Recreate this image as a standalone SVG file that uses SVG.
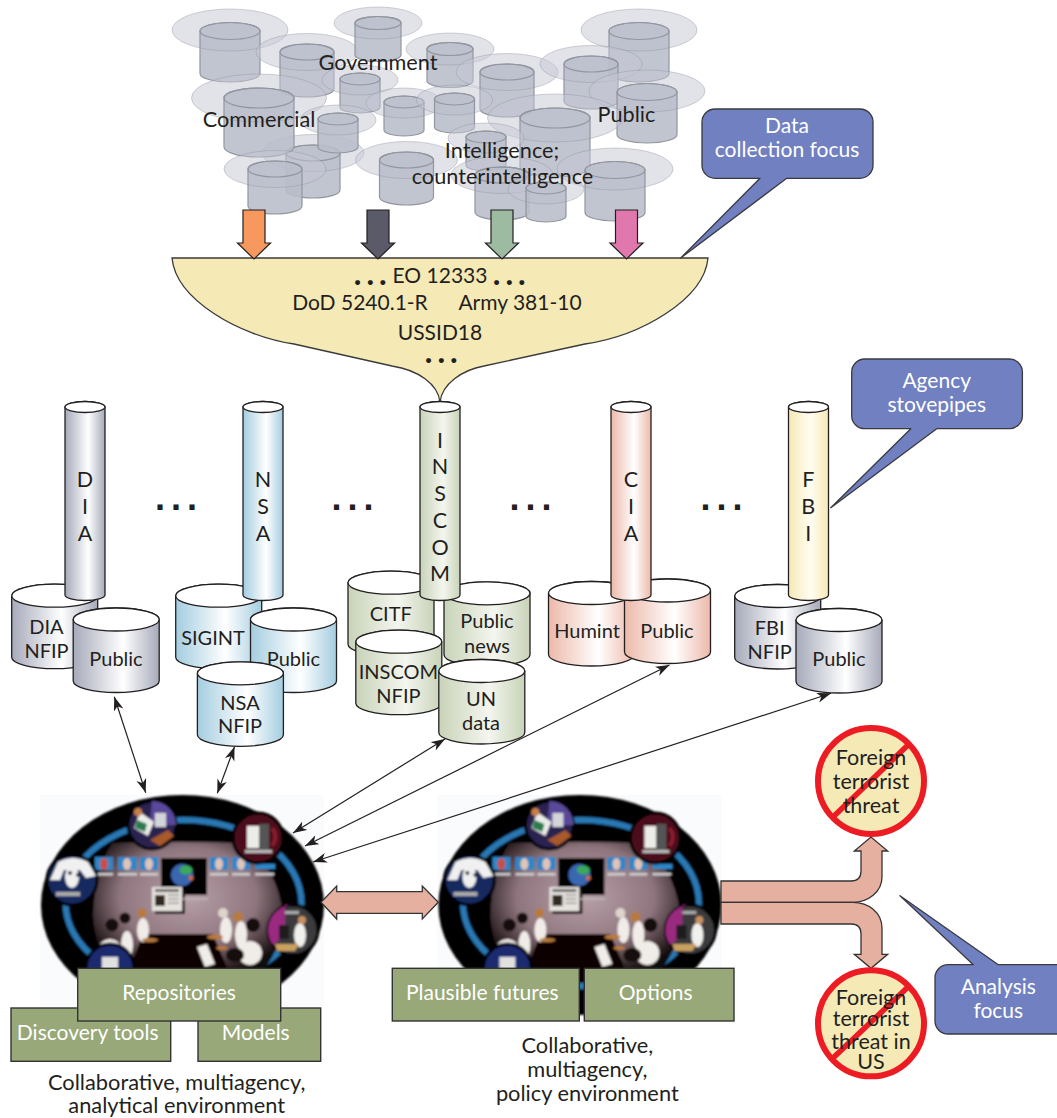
<svg xmlns="http://www.w3.org/2000/svg" xmlns:xlink="http://www.w3.org/1999/xlink" width="1057" height="1118" viewBox="0 0 1057 1118">
<style>
text{font-family:Lato,"Open Sans","Liberation Sans",sans-serif;font-size:20px;fill:#231f20;text-anchor:middle}
.w{fill:#fff;font-size:21px}
.l{font-size:21.7px}
.f{font-size:21px}
.e{font-size:21.8px}
.big{font-size:21.5px}
.dot{font-weight:900;font-size:30px;letter-spacing:5.500px;text-anchor:start}
.sq{font-family:"Liberation Sans",sans-serif;font-weight:700;font-size:36px;letter-spacing:6px;text-anchor:start}
.halo{fill:#c6c8d4;fill-opacity:.5;stroke:none}
.ho{fill:none;stroke:#8f91a0;stroke-opacity:.4;stroke-width:1}
.gb{fill:#b8bdca;fill-opacity:.88;stroke:#92969f;stroke-width:1.2}
.gt{fill:none;stroke:#92969f;stroke-width:1.2}
.cy{stroke:#231f20;stroke-width:1.3}
.top{fill:#fff;stroke:#231f20;stroke-width:1.3}
.box{fill:#98a878;stroke:#333;stroke-width:1.4}
.call{fill:#7080c0;stroke:#3a3a40;stroke-width:1.3;stroke-linejoin:round}
.pink{fill:#e6b0a0;stroke:#333;stroke-width:1.3;stroke-linejoin:miter}
.no{fill:#f5e9b5;stroke:#ed1c24;stroke-width:6}
.bar{stroke:#ed1c24;stroke-width:5.5;fill:none}
.thin{fill:none;stroke:#231f20;stroke-width:1.2;marker-start:url(#ah);marker-end:url(#ah)}
.fall{stroke:#231f20;stroke-width:1.2}
.rc{stroke:#000;stroke-width:3}
</style>
<defs>
<marker id="ah" markerUnits="userSpaceOnUse" markerWidth="15" markerHeight="11" refX="14" refY="5" orient="auto-start-reverse"><path d="M14 5 L0 0 L4 5 L0 10Z" fill="#231f20"/></marker>
<linearGradient id="gDia"><stop offset="0" stop-color="#a6aaba"/><stop offset=".58" stop-color="#fff"/><stop offset="1" stop-color="#a6aaba"/></linearGradient>
<linearGradient id="gNsa"><stop offset="0" stop-color="#a4cde0"/><stop offset=".58" stop-color="#fff"/><stop offset="1" stop-color="#a4cde0"/></linearGradient>
<linearGradient id="gIns"><stop offset="0" stop-color="#c8d3b8"/><stop offset=".58" stop-color="#f4f6ef"/><stop offset="1" stop-color="#c8d3b8"/></linearGradient>
<linearGradient id="gCia"><stop offset="0" stop-color="#ecb9aa"/><stop offset=".58" stop-color="#fff"/><stop offset="1" stop-color="#ecb9aa"/></linearGradient>
<linearGradient id="gFbi"><stop offset="0" stop-color="#f6e9b6"/><stop offset=".55" stop-color="#fffdf2"/><stop offset="1" stop-color="#f6e9b6"/></linearGradient>
<radialGradient id="gRoom" cx=".5" cy=".4" r=".6"><stop offset="0" stop-color="#b8a0a8"/><stop offset=".6" stop-color="#8f767e"/><stop offset="1" stop-color="#100809"/></radialGradient>
<filter id="soft" x="-5%" y="-5%" width="110%" height="110%"><feGaussianBlur stdDeviation=".8"/></filter>
<g id="c20"><ellipse class="halo" cy="1" rx="38" ry="15"/><path class="gb" d="M-20 0V28A20 6 0 0 0 20 28V0A20 6 0 0 0-20 0Z"/><ellipse class="gt" rx="20" ry="6"/><ellipse class="ho" cy="1" rx="38" ry="15"/></g>
<g id="c23"><ellipse class="halo" rx="44" ry="16"/><path class="gb" d="M-23 0V32A23 6.5 0 0 0 23 32V0A23 6.5 0 0 0-23 0Z"/><ellipse class="gt" rx="23" ry="6.5"/><ellipse class="ho" rx="44" ry="16"/></g>
<g id="c27"><ellipse class="halo" rx="51" ry="18.5"/><path class="gb" d="M-27 0V37A27 8 0 0 0 27 37V0A27 8 0 0 0-27 0Z"/><ellipse class="gt" rx="27" ry="8"/><ellipse class="ho" rx="51" ry="18.5"/></g>
<g id="c30"><ellipse class="halo" cy="-1" rx="58" ry="21"/><path class="gb" d="M-30 0V42.5A30 8.5 0 0 0 30 42.5V0A30 8.5 0 0 0-30 0Z"/><ellipse class="gt" rx="30" ry="8.5"/><ellipse class="ho" cy="-1" rx="58" ry="21"/></g>
<g id="c35"><ellipse class="halo" rx="67.5" ry="24"/><path class="gb" d="M-35 0V49A35 10 0 0 0 35 49V0A35 10 0 0 0-35 0Z"/><ellipse class="gt" rx="35" ry="10"/><ellipse class="ho" rx="67.5" ry="24"/></g>
<g id="cyl"><path class="cy" d="M-43 0V61.5A43 11.5 0 0 0 43 61.5V0A43 11.5 0 0 0-43 0Z"/><ellipse class="top" rx="43" ry="11.5"/></g>
<g id="pipe"><path class="cy" d="M-20 0V188A20 5.500 0 0 0 20 188V0A20 5.500 0 0 0-20 0Z"/><ellipse class="top" rx="20" ry="5.500"/></g>
<g id="room">
<rect x="40" y="795" width="284" height="212" fill="#fafbfd"/>
<g filter="url(#soft)">
<ellipse cx="182.500" cy="905" rx="141.500" ry="110" fill="#000"/>
<ellipse cx="183.500" cy="903" rx="118" ry="83" fill="none" stroke="#2a78b4" stroke-width="6"/>
<path d="M112 843Q180 841 248 843Q285 880 283 930Q270 972 250 980H115Q95 950 93 915Q95 870 112 843Z" fill="url(#gRoom)"/>
<path d="M143 934H213L232 980H125Z" fill="#0a0506"/>
<g fill="#2f86c8"><rect x="95" y="857" width="18" height="13"/><rect x="118" y="857" width="19" height="13"/><rect x="140" y="857" width="18" height="13"/><rect x="210" y="857" width="18" height="13"/><rect x="232" y="857" width="18" height="13"/><rect x="255" y="864" width="20" height="5"/></g>
<g fill="#e0c4b8"><ellipse cx="104" cy="864" rx="4" ry="6" fill="#c8504a"/><ellipse cx="127" cy="864" rx="4" ry="6"/><ellipse cx="149" cy="864" rx="4" ry="6"/><ellipse cx="219" cy="864" rx="4" ry="6"/><ellipse cx="241" cy="864" rx="4" ry="6"/></g>
<g fill="#cfcfcf"><rect x="97" y="873" width="16" height="2.500"/><rect x="118" y="873" width="19" height="2.500"/><rect x="140" y="873" width="18" height="2.500"/><rect x="210" y="873" width="18" height="2.500"/><rect x="232" y="873" width="18" height="2.500"/><rect x="255" y="873" width="19" height="2.500"/></g>
<rect x="161" y="858" width="46" height="37" fill="#000"/>
<circle cx="182" cy="875" r="11" fill="#3a66b0"/><ellipse cx="186" cy="870" rx="6.500" ry="4.500" fill="#3aa85a"/><circle cx="191" cy="878" r="2.500" fill="#c86a40"/>
<rect x="155" y="890" width="30" height="24" fill="#1c1416"/><rect x="152" y="887" width="30" height="24" fill="#e6e2de"/><rect x="155" y="889" width="24" height="3" fill="#666"/><rect x="155" y="895" width="10" height="11" fill="#332a22"/><path d="M168 895h11M168 899h11M168 903h11" stroke="#777" stroke-width="1.200"/><path d="M182 899h26" stroke="#bbb" stroke-width="1.500"/>
<g fill="#f0ece8"><ellipse cx="127" cy="945" rx="6" ry="14"/><ellipse cx="143" cy="930" rx="6" ry="12"/><ellipse cx="110" cy="948" rx="11" ry="9"/><ellipse cx="226" cy="930" rx="6" ry="13"/><ellipse cx="241" cy="935" rx="6" ry="14"/><ellipse cx="250" cy="953" rx="12" ry="12"/><path d="M197 947l10-3 8 20-10 3Z"/></g>
<g fill="#15100f"><circle cx="112" cy="925" r="6.500"/><circle cx="125" cy="918" r="5.500"/><circle cx="253" cy="925" r="7"/><ellipse cx="235" cy="955" rx="9" ry="7"/></g>
<g fill="#b87a3c"><circle cx="142" cy="913" r="4.500"/><circle cx="238" cy="917" r="5"/><ellipse cx="150" cy="940" rx="8" ry="2"/><ellipse cx="215" cy="937" rx="8" ry="2.500"/><ellipse cx="222" cy="948" rx="6" ry="2"/></g>
<circle cx="223" cy="913" r="5" fill="#ddd5cc"/>
<circle class="rc" cx="152" cy="825" r="24" fill="#2a2350"/><path d="M152 801a24 24 0 0 1 24 24H150Z" fill="#5a4a9a"/><path d="M140 812l14 10-6 14-14-8Z" fill="#ecece8"/><rect x="155" y="813" width="11" height="14" fill="#d4d5d8"/><path d="M150 840l18-10 6 6-14 10Z" fill="#a85a2a"/><circle cx="138" cy="812" r="4" fill="#c8804a"/><path d="M137 820l10 4-2 8-10-4Z" fill="#2a7a50"/>
<circle class="rc" cx="258" cy="838" r="25" fill="#4c0e1c"/><rect x="247" y="826" width="12" height="22" fill="#ecece8"/><rect x="259" y="824" width="10" height="26" fill="#555"/><path d="M272 828a14 14 0 0 1 0 18" stroke="#8a1a2a" stroke-width="4" fill="none"/><rect x="245" y="850" width="27" height="3" fill="#bbb"/>
<circle class="rc" cx="72" cy="880" r="25" fill="#162a5e"/><path d="M58 862q15-8 30 0l8 14-10 2-6-8-16 0-4 10-10 0Z" fill="#f0f0f0"/><ellipse cx="72" cy="877" rx="7" ry="11" fill="#f0f0f0"/><circle cx="70" cy="873" r="2" fill="#222"/><circle cx="78" cy="875" r="2" fill="#222"/><rect x="56" y="892" width="24" height="4" fill="#aaa"/>
<circle class="rc" cx="293" cy="930" r="25" fill="#3a3a3e"/><path d="M293 905a25 25 0 0 0-20 40l12-10V905Z" fill="#9a2a80"/><rect x="279" y="925" width="10" height="14" fill="#1c1c1c"/><ellipse cx="300" cy="935" rx="6" ry="12" fill="#f0f0ec"/><circle cx="302" cy="920" r="4" fill="#c89060"/><path d="M275 944h24l-4 7h-18Z" fill="#c8a060"/><rect x="285" y="911" width="14" height="3" fill="#aaa"/>
<circle class="rc" cx="110" cy="968" r="24" fill="#1c2a70"/><rect x="102" y="957" width="16" height="22" fill="#e0e0e0"/>
</g>
</g>
</defs>

<g id="sources">
<use href="#c30" x="230" y="31"/><use href="#c27" x="307" y="52"/><use href="#c23" x="378" y="23"/><use href="#c23" x="450" y="49"/><use href="#c27" x="507" y="72"/><use href="#c30" x="639" y="31"/><use href="#c27" x="591" y="64"/><use href="#c30" x="647" y="92"/><use href="#c27" x="313" y="153"/><use href="#c35" x="259" y="98"/><use href="#c20" x="360" y="79"/><use href="#c20" x="404" y="102"/><use href="#c20" x="454.500" y="99"/><use href="#c20" x="338" y="119"/><use href="#c27" x="275" y="169"/><use href="#c27" x="406.500" y="160"/><use href="#c35" x="555" y="118"/><use href="#c20" x="486" y="137"/><use href="#c30" x="615" y="170"/><use href="#c27" x="502" y="175"/><use href="#c20" x="546" y="188"/>
<text class="l" x="378" y="69.500">Government</text>
<text class="l" x="259" y="127">Commercial</text>
<text class="l" x="626.500" y="122">Public</text>
<text class="l" x="502" y="157.500">Intelligence;</text>
<text class="l" x="502.500" y="184">counterintelligence</text>
</g>

<g id="funnel">
<path d="M172 258H708C704 300 640 336 585 344L484 366C462 370 442 384 440 402C438 384 418 370 392 366L294 344C240 336 176 300 172 258Z" fill="#f5e9b5" stroke="#3a3a3a" stroke-width="1.300"/>
<text class="f" x="440" y="283">EO 12333</text>
<text class="f" x="360" y="309.500">DoD 5240.1-R</text>
<text class="f" x="520" y="309.500">Army 381-10</text>
<text class="f" x="440" y="339.500">USSID18</text>
<text class="dot" x="354" y="285">...</text>
<text class="dot" x="493" y="285">...</text>
<text class="dot" x="425" y="363">...</text>
</g>

<g id="dots">
<text class="sq" x="155" y="509.500">...</text>
<text class="sq" x="331.500" y="509.500">...</text>
<text class="sq" x="509.500" y="509.500">...</text>
<text class="sq" x="700.500" y="509.500">...</text>
</g>

<g id="dia" fill="url(#gDia)">
<use href="#cyl" x="54.700" y="595.700"/><text x="46.500" y="634">DIA</text><text x="46.500" y="658">NFIP</text>
<use href="#cyl" x="116.200" y="619.500"/><text x="116" y="666">Public</text>
<use href="#pipe" x="85" y="407"/><text class="big" x="85" y="487">D</text><text class="big" x="85" y="514">I</text><text class="big" x="85" y="541">A</text>
</g>
<g id="nsa" fill="url(#gNsa)">
<use href="#cyl" x="218.700" y="595.700"/><text x="213" y="645">SIGINT</text>
<use href="#cyl" x="293.500" y="619.500"/><text x="293.400" y="666">Public</text>
<use href="#cyl" x="240.400" y="673.300"/><text x="240" y="709.500">NSA</text><text x="240" y="732.500">NFIP</text>
<use href="#pipe" x="263" y="407"/><text class="big" x="263" y="487">N</text><text class="big" x="263" y="514">S</text><text class="big" x="263" y="541">A</text>
</g>
<g id="inscom" fill="url(#gIns)">
<use href="#cyl" x="391" y="582.700"/><text x="390.800" y="621">CITF</text>
<use href="#cyl" x="487" y="593.300"/><text x="487" y="628">Public</text><text x="487" y="653">news</text>
<use href="#cyl" x="398.800" y="641.700"/><text x="398.400" y="679">INSCOM</text><text x="398.400" y="703">NFIP</text>
<use href="#cyl" x="481.800" y="671"/><text x="481" y="706">UN</text><text x="481" y="730">data</text>
<use href="#pipe" x="440" y="407"/><text class="big" x="440" y="447.500">I</text><text class="big" x="440" y="474">N</text><text class="big" x="440" y="501">S</text><text class="big" x="440" y="527.500">C</text><text class="big" x="440" y="554.500">O</text><text class="big" x="440" y="581">M</text>
</g>
<g id="cia" fill="url(#gCia)">
<use href="#cyl" x="591.500" y="593"/><text x="587" y="637.500">Humint</text>
<use href="#cyl" x="667.500" y="590.500"/><text x="667" y="637.500">Public</text>
<use href="#pipe" x="631" y="407"/><text class="big" x="631" y="487">C</text><text class="big" x="631" y="514">I</text><text class="big" x="631" y="541">A</text>
</g>
<g id="fbi">
<use href="#cyl" x="777.700" y="596" fill="url(#gDia)"/><text x="769.700" y="634.500">FBI</text><text x="769.700" y="658.500">NFIP</text>
<use href="#pipe" x="808.500" y="407" fill="url(#gFbi)"/><text class="big" x="808.300" y="487">F</text><text class="big" x="808.300" y="514">B</text><text class="big" x="808.300" y="541">I</text>
<use href="#cyl" x="839" y="620" fill="url(#gDia)"/><text x="839" y="666">Public</text>
</g>

<g id="analytical-env">
<use href="#room"/>
<rect class="box" x="11" y="1008" width="159.700" height="53.300"/><text class="w" x="87.700" y="1039.500">Discovery tools</text>
<rect class="box" x="198" y="1008" width="122.700" height="53.300"/><text class="w" x="255.700" y="1039.500">Models</text>
<rect class="box" x="77.700" y="968.300" width="203" height="52.700"/><text class="w" x="179" y="999.500">Repositories</text>
<text class="e" x="176.700" y="1089.500">Collaborative, multiagency,</text>
<text class="e" x="176.700" y="1113">analytical environment</text>
</g>
<g id="policy-env">
<use href="#room" x="397.400"/>
<rect class="box" x="392.300" y="968.300" width="187" height="52.700"/><text class="w" x="482.300" y="999.500">Plausible futures</text>
<rect class="box" x="584.300" y="968.300" width="149.700" height="52.700"/><text class="w" x="655.700" y="999.500">Options</text>
<text class="e" x="587.300" y="1053">Collaborative,</text>
<text class="e" x="587.300" y="1077">multiagency,</text>
<text class="e" x="587.300" y="1101">policy environment</text>
</g>

<g id="connectors">
<path class="fall" fill="#f7995f" d="M243 210H265V243H270.500L254 259L237.500 243H243Z"/>
<path class="fall" fill="#5a5a68" d="M367 210H389V243H394.500L378 259L361.500 243H367Z"/>
<path class="fall" fill="#9cbba0" d="M491 210H513V243H518.500L502 259L485.500 243H491Z"/>
<path class="fall" fill="#e078ae" d="M615.500 210H637.500V243H643L626.500 259L610 243H615.500Z"/>
<path class="thin" d="M114.300 696.700L145.700 792.700"/>
<path class="thin" d="M234.500 746.700L217.300 793.300"/>
<path class="thin" d="M445 739L293 833"/>
<path class="thin" d="M669.500 665L305 846"/>
<path class="thin" d="M831 693.300L313 862"/>
<path class="pink" d="M321 902.300L336.700 886V891.700H422.300V886L438.300 902.300L422.300 919V913.300H336.700V919Z"/>
<path class="pink" d="M721 881H851Q861 881 861 871V851H854.300L871 837L887.700 851H882V877C882 892 868 902.300 853 902.300H721Z"/>
<path class="pink" d="M721 902.300H853C868 902.300 882 912 882 928V954.300H887.700L871 968.300L854.300 954.300H861V934Q861 924 851 924H721Z"/>
</g>

<g id="threat">
<circle class="no" cx="871" cy="781" r="53"/><path class="bar" d="M908 745L833 817"/>
<text class="big" x="871" y="765">Foreign</text><text class="big" x="871" y="789">terrorist</text><text class="big" x="871" y="813">threat</text>
</g>
<g id="threat-us">
<circle class="no" cx="871" cy="1023.300" r="53"/><path class="bar" d="M908 987L833 1058"/>
<text class="big" x="871" y="1005">Foreign</text><text class="big" x="871" y="1026">terrorist</text><text class="big" x="871" y="1048.500">threat in</text><text class="big" x="871" y="1068.500">US</text>
</g>

<g id="callout-data">
<path class="call" d="M715 109H860A13 13 0 0 1 873 122V165A13 13 0 0 1 860 178.300H786.700L680.700 258L760 178.300H715A13 13 0 0 1 702 165V122A13 13 0 0 1 715 109Z"/>
<text class="w" x="787" y="133">Data</text><text class="w" x="787" y="157">collection focus</text>
</g>
<g id="callout-agency">
<path class="call" d="M865 359H1009A13 13 0 0 1 1022.400 372V415.700A13 13 0 0 1 1009 428.700H936.700L830.800 507.700L910.800 428.700H865A13 13 0 0 1 851.700 415.700V372A13 13 0 0 1 865 359Z"/>
<text class="w" x="936.700" y="388">Agency</text><text class="w" x="936.700" y="412">stovepipes</text>
</g>
<g id="callout-analysis">
<path class="call" d="M948 964.700H973.300L900 895.700L998.300 964.700H1070V1034H948A13 13 0 0 1 935 1021V977.700A13 13 0 0 1 948 964.700Z"/>
<text class="w" x="998.300" y="994">Analysis</text><text class="w" x="998.300" y="1017.500">focus</text>
</g>
</svg>
